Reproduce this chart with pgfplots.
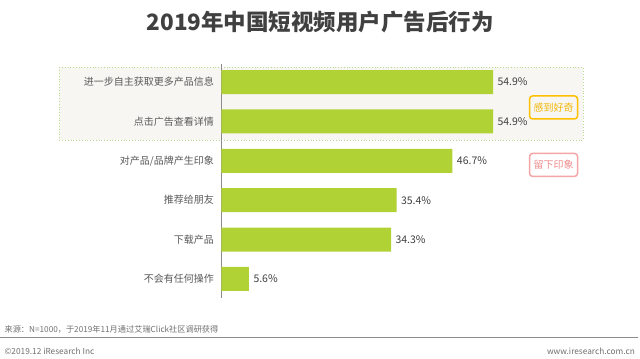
\documentclass[border=0pt]{standalone}
\usepackage{pgfplots}
\pgfplotsset{compat=1.18}
\usepackage{fontspec}
\setmainfont{Noto Sans CJK SC}
\definecolor{barc}{HTML}{B1D235}
\definecolor{txt}{HTML}{404040}
\definecolor{lab}{HTML}{595959}
\definecolor{boxfill}{HTML}{F7F6F2}
\definecolor{boxline}{HTML}{B8DC8E}
\definecolor{orangeb}{HTML}{FFC000}
\definecolor{oranget}{HTML}{F2B705}
\definecolor{pinkb}{HTML}{F4A6A6}
\definecolor{pinkt}{HTML}{F08C8C}
\definecolor{foot}{HTML}{707070}
\begin{document}
\begin{tikzpicture}
\begin{scope}[x=1bp,y=-1bp]
\useasboundingbox (0,0) rectangle (640,359);
\fill[white] (0,0) rectangle (640,359);
\filldraw[fill=boxfill,draw=boxline,dotted,line width=0.8bp] (59,67.5) rectangle (583,140);
\end{scope}
\begin{axis}[
  at={(221bp,-298bp)}, anchor=south west,
  scale only axis, width=396.3bp, height=233.6bp,
  xmin=0, xmax=80, ymin=-0.45, ymax=5.48, y dir=reverse,
  xbar, bar width=24bp,
  axis x line=none, axis y line*=left,
  y axis line style={draw=gray!90, line width=1.2bp, -},
  ytick={0,1,2,3,4,5},
  yticklabels={进一步自主获取更多产品信息,点击广告查看详情,对产品/品牌产生印象,推荐给朋友,下载产品,不会有任何操作},
  major tick length=0pt,
  yticklabel style={font=\fontsize{10bp}{12bp}\selectfont, text=lab, xshift=-4bp},
  /pgf/number format/assume math mode=true,
  nodes near coords={\pgfmathprintnumber[fixed,fixed zerofill,precision=1,assume math mode=true]{\pgfplotspointmeta}\%},
  nodes near coords style={font=\fontsize{10.5bp}{12bp}\selectfont, text=txt, xshift=1bp},
  point meta=x,
  clip=false,
]
\addplot[fill=barc, draw=none] coordinates {(54.9,0) (54.9,1) (46.7,2) (35.4,3) (34.3,4) (5.6,5)};
\end{axis}
\begin{scope}[x=1bp,y=-1bp]
\node[font=\fontsize{22.5bp}{26bp}\selectfont\bfseries, text=txt] at (320,22.5) {2019年中国短视频用户广告后行为};
\node[draw=orangeb, line width=1.5bp, rounded corners=3bp, minimum width=48bp, minimum height=23bp, inner sep=0pt, text=oranget, font=\fontsize{10bp}{12bp}\selectfont] at (553.5,107.5) {感到好奇};
\node[draw=pinkb, line width=1.5bp, rounded corners=3bp, minimum width=48bp, minimum height=23bp, inner sep=0pt, text=pinkt, font=\fontsize{10bp}{12bp}\selectfont] at (553.5,165) {留下印象};
\draw[foot!80, line width=0.8bp] (0,337.5) -- (638,337.5);
\node[anchor=west, font=\fontsize{8.2bp}{9bp}\selectfont, text=foot, inner sep=0pt] at (4,329.5) {来源：N=1000，于2019年11月通过艾瑞Click社区调研获得};
\node[anchor=west, font=\fontsize{8.3bp}{9bp}\selectfont, text=foot, inner sep=0pt] at (4,351) {©2019.12 iResearch Inc};
\node[anchor=east, font=\fontsize{8.3bp}{9bp}\selectfont, text=foot, inner sep=0pt] at (635,351) {www.iresearch.com.cn};
\end{scope}
\end{tikzpicture}
\end{document}
